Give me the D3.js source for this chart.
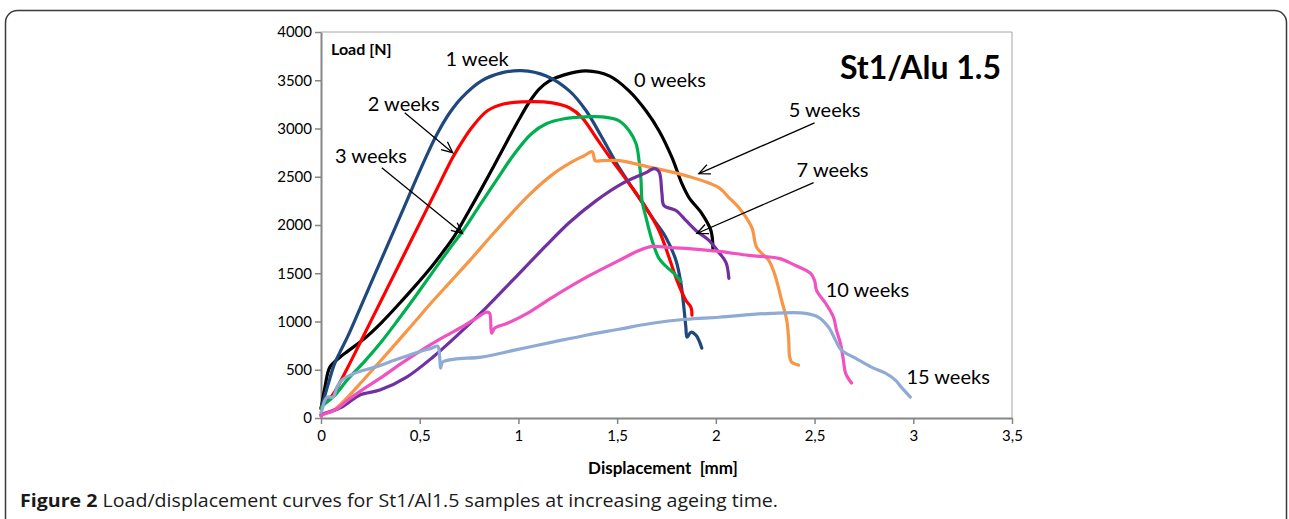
<!DOCTYPE html>
<html>
<head>
<meta charset="utf-8">
<script src="https://cdn.jsdelivr.net/npm/d3@7/dist/d3.min.js"></script>
<style>
  html, body { margin: 0; padding: 0; background: #fff; }
  svg { display: block; font-family: Lato, "Open Sans", sans-serif; }
</style>
</head>
<body>
<div id="chart"></div>
<script>
'use strict';

// Load [N] vs displacement [mm]
var week0 = [[0,100],[0.005,150],[0.02,320],[0.045,527],[0.096,630],[0.136,693],[0.222,827],[0.308,992],
  [0.389,1168],[0.475,1364],[0.561,1571],[0.616,1716],[0.677,1891],[0.742,2119],[0.813,2377],[0.879,2625],
  [0.944,2873],[1.005,3101],[1.056,3277],[1.106,3411],[1.157,3494],[1.232,3556],[1.343,3597],[1.46,3545],
  [1.56,3390],[1.646,3184],[1.712,2977],[1.778,2698],[1.828,2429],[1.864,2284],[1.929,2119],[1.975,1943],
  [1.985,1757]];
var week1 = [[0,100],[0.005,130],[0.035,341],[0.066,548],[0.096,682],[0.136,848],[0.222,1251],[0.308,1654],
  [0.409,2129],[0.51,2605],[0.586,2935],[0.652,3163],[0.712,3318],[0.813,3494],[0.914,3576],[1.015,3600],
  [1.141,3545],[1.258,3390],[1.343,3184],[1.424,2904],[1.51,2594],[1.596,2326],[1.677,2078],[1.747,1871],
  [1.798,1633],[1.823,1395],[1.838,1147],[1.848,941],[1.854,837],[1.874,889],[1.899,858],[1.914,806],
  [1.929,724]];
var week2 = [[0,100],[0.005,120],[0.056,230],[0.136,527],[0.222,879],[0.308,1231],[0.389,1563],[0.51,2058],
  [0.591,2389],[0.667,2700],[0.72,2880],[0.763,3008],[0.843,3184],[0.929,3256],[1.015,3276],[1.172,3266],
  [1.258,3215],[1.323,3111],[1.394,2904],[1.475,2667],[1.561,2429],[1.646,2181],[1.712,1943],[1.763,1664],
  [1.803,1426],[1.848,1220],[1.874,1147],[1.879,1065]];
var week3 = [[0,100],[0.005,120],[0.071,238],[0.136,403],[0.222,589],[0.308,796],[0.389,1013],[0.475,1251],
  [0.561,1499],[0.641,1726],[0.727,1964],[0.813,2233],[0.894,2481],[0.98,2739],[1.066,2946],[1.141,3049],
  [1.232,3101],[1.343,3121],[1.424,3121],[1.51,3080],[1.561,2977],[1.596,2842],[1.611,2667],[1.621,2460],
  [1.626,2253],[1.646,2078],[1.677,1840],[1.712,1654],[1.753,1561],[1.788,1499],[1.823,1416]];
var week5 = [[0,40],[0.005,45],[0.056,72],[0.106,155],[0.187,331],[0.273,527],[0.359,724],[0.46,961],
  [0.561,1199],[0.662,1426],[0.763,1654],[0.864,1891],[0.955,2098],[1.056,2315],[1.172,2522],[1.273,2656],
  [1.333,2718],[1.374,2760],[1.389,2667],[1.424,2667],[1.51,2667],[1.677,2594],[1.848,2512],[2.015,2388],
  [2.066,2284],[2.116,2181],[2.182,1974],[2.207,1767],[2.268,1633],[2.303,1457],[2.333,1220],[2.359,1013],
  [2.369,806],[2.374,630],[2.384,579],[2.419,548]];
var week7 = [[0,30],[0.01,40],[0.106,114],[0.197,238],[0.298,289],[0.434,424],[0.566,630],[0.702,879],
  [0.838,1147],[0.97,1426],[1.141,1788],[1.258,2026],[1.394,2253],[1.525,2429],[1.646,2543],[1.687,2584],
  [1.712,2553],[1.727,2326],[1.737,2202],[1.798,2150],[1.848,2047],[1.899,1943],[1.965,1840],[2.015,1716],
  [2.051,1612],[2.066,1447]];
var week10 = [[0,20],[0.005,30],[0.071,83],[0.136,186],[0.222,310],[0.308,424],[0.409,568],[0.51,703],
  [0.611,827],[0.712,941],[0.793,1044],[0.838,1096],[0.854,1085],[0.864,879],[0.879,930],[0.944,982],
  [1.045,1085],[1.172,1251],[1.343,1457],[1.51,1633],[1.611,1736],[1.677,1778],[1.763,1767],[1.848,1757],
  [2.015,1726],[2.167,1685],[2.318,1654],[2.404,1581],[2.48,1499],[2.5,1426],[2.51,1323],[2.556,1189],
  [2.596,1044],[2.611,910],[2.631,775],[2.646,600],[2.657,465],[2.687,362]];
var week15 = [[0,60],[0.005,80],[0.02,186],[0.035,217],[0.061,217],[0.081,320],[0.106,393],[0.172,465],
  [0.273,527],[0.374,600],[0.475,672],[0.56,724],[0.591,744],[0.601,631],[0.606,517],[0.616,579],
  [0.677,610],[0.813,631],[0.98,703],[1.172,786],[1.343,858],[1.51,920],[1.677,982],[1.848,1023],
  [2.015,1044],[2.283,1085],[2.455,1085],[2.52,1044],[2.571,941],[2.606,806],[2.636,703],[2.707,620],
  [2.788,527],[2.859,465],[2.909,393],[2.939,320],[2.985,217]];

var seriesNames = ["0 weeks", "1 week", "2 weeks", "3 weeks", "5 weeks", "7 weeks", "10 weeks", "15 weeks"];
var seriesData = [week0, week1, week2, week3, week5, week7, week10, week15];
var seriesColors = ["#000000", "#1f497d", "#ff0000", "#00b050", "#f79646", "#7030a0", "#f152c2", "#8fabd4"];

// series label anchors (data units) and arrows pointing at the curves
var labelNames = ["1 week", "0 weeks", "2 weeks", "3 weeks", "5 weeks", "7 weeks", "10 weeks", "15 weeks"];
var labelX = [0.631, 1.586, 0.237, 0.071, 2.369, 2.409, 2.556, 2.965];
var labelY = [3650, 3432, 3184, 2646, 3122, 2501, 1251, 351];
var arrowFrom = [[0.424, 3163], [0.308, 2594], [2.5, 3059], [2.495, 2439]];
var arrowTo = [[0.667, 2749], [0.717, 1912], [1.914, 2532], [1.904, 1912]];

var xTicks = [0, 0.5, 1, 1.5, 2, 2.5, 3, 3.5];
var yTicks = [0, 500, 1000, 1500, 2000, 2500, 3000, 3500, 4000];

(function() {
    var W = 1289, H = 519;
    var margin = { left: 321, right: 275, top: 32, bottom: 101 };

    var svg = d3.select("#chart").append("svg")
        .attr("width", W)
        .attr("height", H);

    // outer rounded frame of the figure
    svg.append("rect")
        .attr("x", 5.5).attr("y", 10.5)
        .attr("width", 1281).attr("height", 540)
        .attr("rx", 12).attr("ry", 12)
        .attr("fill", "none")
        .attr("stroke", "#3a3a3a")
        .attr("stroke-width", 1.5);

    var x = d3.scaleLinear().domain([0, 3.5]).range([margin.left, W - margin.right - 2]);
    var y = d3.scaleLinear().domain([0, 4000]).range([H - margin.bottom, margin.top]);

    var fmtX = function(d) { return String(d).replace(".", ","); };
    var fmtY = function(d) { return String(d); };

    // plot area border (top/right)
    svg.append("path")
        .attr("d", "M" + x(0) + "," + y(4000) + "H" + x(3.5) + "V" + y(0))
        .attr("fill", "none")
        .attr("stroke", "#a6a6a6")
        .attr("stroke-width", 1);

    var xAxis = svg.append("g")
        .attr("transform", "translate(0," + y(0) + ")")
        .call(d3.axisBottom(x).tickValues(xTicks).tickFormat(fmtX).tickSize(6).tickSizeOuter(0));
    var yAxis = svg.append("g")
        .attr("transform", "translate(" + x(0) + ",0)")
        .call(d3.axisLeft(y).tickValues(yTicks).tickFormat(fmtY).tickSize(6).tickSizeOuter(0));

    [xAxis, yAxis].forEach(function(a) {
        a.select(".domain").attr("stroke", "#868686").attr("stroke-width", 2);
        a.selectAll(".tick line").attr("stroke", "#868686").attr("stroke-width", 1.5);
        a.selectAll("text")
            .attr("fill", "#000")
            .style("font-family", "Lato, sans-serif")
            .style("font-size", "15px");
    });
    xAxis.selectAll("text").attr("dy", "0.95em").attr("y", 9);
    yAxis.selectAll("text").attr("x", -9);

    // curves
    var line = d3.line()
        .x(function(d) { return x(d[0]); })
        .y(function(d) { return y(d[1]); })
        .curve(d3.curveCatmullRom.alpha(0.5));

    svg.append("g").selectAll("path")
        .data(seriesData)
        .enter().append("path")
        .attr("d", line)
        .attr("fill", "none")
        .attr("stroke", function(d, i) { return seriesColors[i]; })
        .attr("stroke-width", 3.2)
        .attr("stroke-linejoin", "round")
        .attr("stroke-linecap", "round");

    // arrows
    svg.append("defs").append("marker")
        .attr("id", "open-arrow")
        .attr("viewBox", "-12 -6 14 12")
        .attr("refX", 0).attr("refY", 0)
        .attr("markerWidth", 14).attr("markerHeight", 12)
        .attr("markerUnits", "userSpaceOnUse")
        .attr("orient", "auto")
        .append("path")
        .attr("d", "M-11,-5L0,0L-11,5")
        .attr("fill", "none")
        .attr("stroke", "#000")
        .attr("stroke-width", 1.3);

    svg.append("g").selectAll("line")
        .data(arrowFrom)
        .enter().append("line")
        .attr("x1", function(d) { return x(d[0]); })
        .attr("y1", function(d) { return y(d[1]); })
        .attr("x2", function(d, i) { return x(arrowTo[i][0]); })
        .attr("y2", function(d, i) { return y(arrowTo[i][1]); })
        .attr("stroke", "#000")
        .attr("stroke-width", 1.3)
        .attr("marker-end", "url(#open-arrow)");

    // series labels
    svg.append("g").selectAll("text")
        .data(labelNames)
        .enter().append("text")
        .attr("x", function(d, i) { return x(labelX[i]); })
        .attr("y", function(d, i) { return y(labelY[i]); })
        .style("font-size", "20px")
        .text(function(d) { return d; });

    svg.append("text")
        .attr("x", 331).attr("y", 55)
        .style("font-size", "16px")
        .style("font-weight", "bold")
        .text("Load [N]");

    svg.append("text")
        .attr("x", 1001).attr("y", 79)
        .attr("text-anchor", "end")
        .style("font-size", "32px")
        .style("font-weight", "bold")
        .text("St1/Alu 1.5");

    svg.append("text")
        .attr("x", 663).attr("y", 474)
        .attr("text-anchor", "middle")
        .style("font-size", "17px")
        .style("font-weight", "bold")
        .style("white-space", "pre")
        .text("Displacement  [mm]");

    // caption
    var cap = svg.append("text")
        .attr("x", 20).attr("y", 507)
        .attr("textLength", 758)
        .attr("lengthAdjust", "spacingAndGlyphs")
        .style("font-family", "'Open Sans', sans-serif")
        .style("font-size", "18px")
        .attr("fill", "#1a1a1a");
    cap.append("tspan").style("font-weight", "bold").text("Figure 2");
    cap.append("tspan").text(" Load/displacement curves for St1/Al1.5 samples at increasing ageing time.");
})();
</script>
</body>
</html>
